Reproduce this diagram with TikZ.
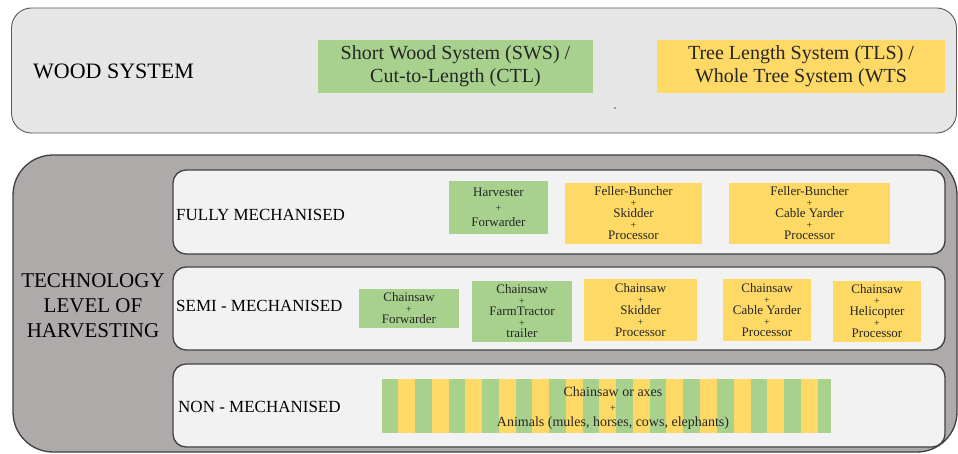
\documentclass[tikz,border=0pt]{standalone}
\usepackage{fontspec}
\setmainfont{Liberation Serif}
\newfontfamily\tnr{Liberation Serif}
\definecolor{swsgreen}{HTML}{A9D18E}
\definecolor{tlsyellow}{HTML}{FFD966}
\definecolor{woodgrey}{HTML}{E7E6E6}
\definecolor{techgrey}{HTML}{AEAAAA}
\definecolor{rowgrey}{HTML}{F2F2F2}
\definecolor{edge}{HTML}{404040}
\newcommand{\fsz}[2]{\tnr\fontsize{#1}{#2}\selectfont}
\newcommand{\pls}{{\fontsize{10}{10}\selectfont+}}
\tikzset{
  frame/.style={draw=edge, inner sep=0pt},
  panel/.style={frame, line width=1.3pt, fill=rowgrey, rounded corners=13pt,
    minimum width=772pt, minimum height=83pt},
  rowlabel/.style={anchor=west, inner sep=0pt, font=\fsz{17}{20}},
  machine/.style={inner sep=0pt, align=center, text=black!85, font=\fsz{13}{11}},
  sws/.style={machine, fill=swsgreen},
  tls/.style={machine, fill=tlsyellow}
}
\begin{document}
\begin{tikzpicture}[x=1pt, y=-1pt]
\useasboundingbox (0,0) rectangle (958,454);
% wood system
\node [frame, line width=0.9pt, draw=black!65, fill=woodgrey, rounded corners=20pt,
  minimum width=945pt, minimum height=125pt] (wood) at (484,70.5) {};
\node [anchor=west, inner sep=0pt, font=\fsz{22}{24}] (woodlabel) at (33,71) {WOOD SYSTEM};
\node [sws, minimum width=275pt, minimum height=53pt, font=\fsz{20}{23}] (swsbox) at (455.5,66.5)
  {Short Wood System (SWS) /\\Cut-to-Length (CTL)};
\node [tls, minimum width=288pt, minimum height=53pt, font=\fsz{20}{23}] (tlsbox) at (801,66.5)
  {Tree Length System (TLS) /\\Whole Tree System (WTS};
\fill [black!70] (615,108) circle (0.8);
% technology level
\node [frame, line width=1.3pt, fill=techgrey, rounded corners=40pt,
  minimum width=944pt, minimum height=297pt] (tech) at (485,303.5) {};
\node [align=center, inner sep=0pt, font=\fsz{21}{25}] (techlabel) at (93,306)
  {TECHNOLOGY\\LEVEL OF\\HARVESTING};
\node [panel, minimum height=84pt] (fully) at (559,212) {};
\node [panel] (semi) at (559,308.5) {};
\node [panel] (non) at (559,405.5) {};
\node [rowlabel] (fullylabel) at (176,215) {FULLY MECHANISED};
\node [rowlabel] (semilabel) at (176,306) {SEMI - MECHANISED};
\node [rowlabel] (nonlabel) at (178,407) {NON - MECHANISED};
% fully mechanised
\node [sws, minimum width=99pt, minimum height=53pt] (hf) at (498.5,207.5)
  {Harvester\\[4pt]\pls\\[4pt]Forwarder};
\node [tls, minimum width=137pt, minimum height=61pt] (fbs) at (633.5,213.5)
  {Feller-Buncher\\\pls\\Skidder\\\pls\\Processor};
\node [tls, minimum width=161pt, minimum height=61pt] (fbc) at (809.5,213.5)
  {Feller-Buncher\\\pls\\Cable Yarder\\\pls\\Processor};
% semi mechanised
\node [sws, minimum width=100pt, minimum height=39pt] (cf) at (409,308.5)
  {Chainsaw\\\pls\\Forwarder};
\node [sws, minimum width=100pt, minimum height=61pt] (cft) at (522,311.5)
  {Chainsaw\\\pls\\FarmTractor\\\pls\\trailer};
\node [tls, minimum width=113pt, minimum height=62pt] (csp) at (640.5,310)
  {Chainsaw\\\pls\\Skidder\\\pls\\Processor};
\node [tls, minimum width=88pt, minimum height=62pt] (ccy) at (767,310)
  {Chainsaw\\\pls\\Cable Yarder\\\pls\\Processor};
\node [tls, minimum width=88pt, minimum height=61pt] (chp) at (877,311.5)
  {Chainsaw\\\pls\\Helicopter\\\pls\\Processor};
% non mechanised
\node [fill=swsgreen, inner sep=0pt, minimum width=449pt, minimum height=54pt] (anim) at (606.5,406) {};
\foreach \i in {0,...,12}
  \fill [tlsyellow] ({398+33.55*\i},379) rectangle +(17,54);
\node [machine, font=\fsz{14}{15}] (animtext) at (613,408)
  {Chainsaw or axes\\\pls\\Animals (mules, horses, cows, elephants)};
\end{tikzpicture}
\end{document}
